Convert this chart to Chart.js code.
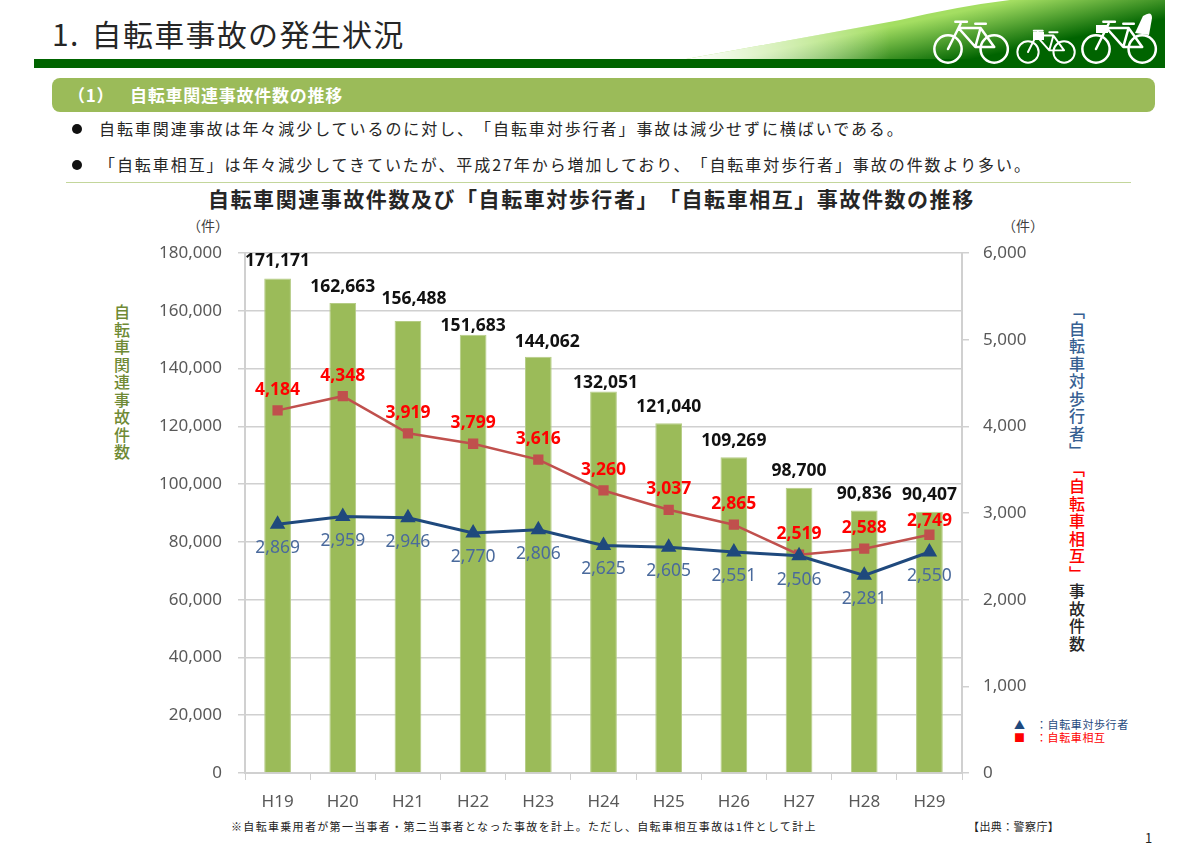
<!DOCTYPE html>
<html lang="ja">
<head>
<meta charset="utf-8">
<title>自転車事故の発生状況</title>
<script src="https://cdn.jsdelivr.net/npm/chart.js@4"></script>
<style>
  html, body { margin: 0; padding: 0; background: #fff; }
  #page { position: relative; width: 1200px; height: 848px; overflow: hidden; text-spacing-trim: space-all;
          font-family: "Noto Sans CJK JP", "Noto Sans", sans-serif; color: #262626; }
  #page > div { position: absolute; white-space: nowrap; line-height: 1; }
  #page > svg { position: absolute; left: 0; top: 0; }
  #chart { position: absolute; left: 0; top: 0; }
  .heading { left: 52px; top: 18px; font-size: 30px; letter-spacing: 1.3px; word-spacing: 4px; }
  .section { left: 52px; top: 78px; width: 1103px; height: 34px; background: #9bbb59;
             border-radius: 8px; }
  .section-text { top: 86px; font-size: 17px; font-weight: 700; color: #fff; letter-spacing: 0.75px; }
  .bullet { left: 99px; font-size: 16px; letter-spacing: 1.93px; }
  .dot { left: 72px; width: 10px; height: 10px; border-radius: 50%; background: #111; }
  .rule { left: 66px; top: 182px; width: 1065px; height: 1px; background: #c3d69b; }
  .chart-title { left: 208px; top: 188px; font-size: 21px; font-weight: 700; letter-spacing: 1.55px; }
  .unit { top: 218px; font-size: 14px; color: #404040; }
  .axis-title { writing-mode: vertical-rl; font-size: 16px; font-weight: 500; letter-spacing: 1.5px; }
  .key { font-size: 11px; letter-spacing: 0.6px; }
  .note { font-size: 11px; letter-spacing: 1.32px; color: #222; }
</style>
</head>
<body>
<div id="page">
  <svg width="1200" height="80" viewBox="0 0 1200 80">
    <defs>
      <linearGradient id="wedgeGreen" gradientUnits="userSpaceOnUse" x1="920" y1="20" x2="930" y2="68">
        <stop offset="0" stop-color="#a4de62"/>
        <stop offset="1" stop-color="#006400"/>
      </linearGradient>
      <linearGradient id="wedgeFade" gradientUnits="userSpaceOnUse" x1="690" y1="0" x2="890" y2="0">
        <stop offset="0" stop-color="#ffffff"/>
        <stop offset="1" stop-color="#ffffff" stop-opacity="0"/>
      </linearGradient>
      <path id="wedge" d="M686 59 L900 20 Q960 6 1010 0 L1165 0 L1165 68 L686 68 Z"/>
      <g id="bike" fill="none" stroke="#fff" stroke-width="2.4" stroke-linecap="round" stroke-linejoin="round">
        <circle cx="0" cy="0" r="13"/>
        <circle cx="44" cy="0" r="13"/>
        <path d="M0 0 L12 -24 M7 -26 H18 M10 -20 L26 -2 H44 L31 -20 H12 M26 -2 L31 -20 M26 -24 H36"/>
      </g>
    </defs>
    <use href="#wedge" fill="url(#wedgeGreen)"/>
    <use href="#wedge" fill="url(#wedgeFade)"/>
    <rect x="34" y="59" width="1131" height="9" fill="#006400"/>
    <use href="#bike" transform="translate(948 49) scale(1.05)"/>
    <use href="#bike" transform="translate(1028 52) scale(0.82)"/>
    <rect x="1033" y="32" width="11" height="8" fill="#fff"/>
    <use href="#bike" transform="translate(1096 49) scale(1.05)"/>
    <rect x="1096" y="25" width="12" height="8" fill="#fff"/>
    <path d="M1135 33 L1143 16 Q1152 10 1152 18 L1149 35 Z" fill="#fff"/>
  </svg>

  <div class="heading">1. 自転車事故の発生状況</div>
  <div class="section"></div>
  <div class="section-text" style="left:68px">（1）</div>
  <div class="section-text" style="left:130px">自転車関連事故件数の推移</div>
  <div class="dot" style="top:124px"></div>
  <div class="bullet" style="top:120px">自転車関連事故は年々減少しているのに対し、「自転車対歩行者」事故は減少せずに横ばいである。</div>
  <div class="dot" style="top:160px"></div>
  <div class="bullet" style="top:156px">「自転車相互」は年々減少してきていたが、平成27年から増加しており、「自転車対歩行者」事故の件数より多い。</div>
  <div class="rule"></div>
  <div class="chart-title">自転車関連事故件数及び「自転車対歩行者」「自転車相互」事故件数の推移</div>
  <div class="unit" style="left:187px">（件）</div>
  <div class="unit" style="left:1002px">（件）</div>
  <div class="axis-title" style="left:114px;top:304px;color:#6f8a35">自転車関連事故件数</div>
  <div class="axis-title" style="left:1069px;top:303px"><span style="color:#376092">「自転車対歩行者」</span><span style="color:#ff0000">「自転車相互」</span><span style="color:#262626">事故件数</span></div>
  <div class="key" style="left:1014px;top:719px;color:#1f497d">▲</div>
  <div class="key" style="left:1036px;top:719px;color:#1f497d">：自転車対歩行者</div>
  <div class="key" style="left:1014px;top:732px;color:#ff0000">■</div>
  <div class="key" style="left:1036px;top:732px;color:#ff0000">：自転車相互</div>
  <div class="note" style="left:231px;top:821px">※自転車乗用者が第一当事者・第二当事者となった事故を計上。ただし、自転車相互事故は1件として計上</div>
  <div class="note" style="left:968px;top:821px;letter-spacing:0.4px">【出典：警察庁】</div>
  <div class="note" style="left:1145px;top:831px;font-size:13px">1</div>

  <canvas id="chart" width="1200" height="848"></canvas>
</div>

<script>
// --- DATA ---
const years = ['H19', 'H20', 'H21', 'H22', 'H23', 'H24', 'H25', 'H26', 'H27', 'H28', 'H29'];
const totalAccidents = [171171, 162663, 156488, 151683, 144062, 132051, 121040, 109269, 98700, 90836, 90407];
const bikePedestrian = [2869, 2959, 2946, 2770, 2806, 2625, 2605, 2551, 2506, 2281, 2550];
const bikeBike = [4184, 4348, 3919, 3799, 3616, 3260, 3037, 2865, 2519, 2588, 2749];

// a few labels were dragged aside in the original, nudges in px from the default spot
const totalShiftX = [0, 0, 6, 0, 9, 2, 0, 0, 0, 0, 0];
const totalShiftY = [0, 1, -5, 8, 2, 8, 1, 1, 0, 0, 0];
const bikeBikeShiftY = [0, 0, 0, 0, 0, 0, 0, 0, 0, 0, 6.5];

const tickColor = '#595959';
const gridColor = '#d0d0d0';
const tickFont = { family: '"Noto Sans", sans-serif', size: 17 };

// draws the value labels above bars and around the line points
const valueLabels = {
    id: 'valueLabels',
    afterDatasetsDraw(chart) {
        const ctx = chart.ctx;
        const xs = chart.scales.x;
        const left = chart.scales.y;
        const right = chart.scales.y2;
        ctx.save();
        ctx.textAlign = 'center';
        ctx.textBaseline = 'middle';

        ctx.font = '700 17.5px "Noto Sans", sans-serif';
        ctx.fillStyle = '#111';
        totalAccidents.forEach((v, i) => {
            ctx.fillText(v.toLocaleString('en-US'), xs.getPixelForValue(i) + totalShiftX[i], left.getPixelForValue(v) - 17 + totalShiftY[i]);
        });

        ctx.font = '400 17.5px "Noto Sans", sans-serif';
        ctx.fillStyle = '#4a6a9c';
        bikePedestrian.forEach((v, i) => {
            ctx.fillText(v.toLocaleString('en-US'), xs.getPixelForValue(i), right.getPixelForValue(v) + 24);
        });

        ctx.font = '700 17.5px "Noto Sans", sans-serif';
        ctx.fillStyle = '#ff0000';
        bikeBike.forEach((v, i) => {
            ctx.fillText(v.toLocaleString('en-US'), xs.getPixelForValue(i), right.getPixelForValue(v) - 20.5 + bikeBikeShiftY[i]);
        });
        ctx.restore();
    }
};

new Chart(document.getElementById('chart'), {
    type: 'bar',
    data: {
        labels: years,
        datasets: [
            {
                type: 'line',
                label: '自転車相互',
                data: bikeBike,
                yAxisID: 'y2',
                borderColor: '#c0504d',
                backgroundColor: '#c0504d',
                borderWidth: 2.5,
                pointStyle: 'rect',
                pointRadius: 5.5,
                tension: 0,
                order: 2
            },
            {
                type: 'line',
                label: '自転車対歩行者',
                data: bikePedestrian,
                yAxisID: 'y2',
                borderColor: '#1f497d',
                backgroundColor: '#1f497d',
                borderWidth: 3,
                pointStyle: 'triangle',
                pointRadius: 6,
                tension: 0,
                order: 1
            },
            {
                label: '自転車関連事故件数',
                data: totalAccidents,
                yAxisID: 'y',
                backgroundColor: '#9bbb59',
                borderColor: '#b5cc85',
                borderWidth: 1,
                barPercentage: 0.41,
                categoryPercentage: 1,
                order: 3
            }
        ]
    },
    options: {
        responsive: false,
        animation: false,
        devicePixelRatio: 1,
        layout: { padding: { top: 253, left: 0, right: 0, bottom: 0 } },
        plugins: {
            legend: { display: false },
            title: { display: false },
            tooltip: { enabled: false }
        },
        scales: {
            x: {
                offset: true,
                grid: { offset: true, drawOnChartArea: false, color: gridColor, tickLength: 7 },
                border: { color: gridColor, width: 2 },
                ticks: { color: tickColor, font: tickFont, padding: 12, maxRotation: 0 },
                afterFit(scale) { scale.height = 75; }
            },
            y: {
                min: 0,
                max: 180000,
                grid: { color: gridColor, lineWidth: 1.5, tickLength: 7 },
                border: { color: gridColor, width: 2 },
                ticks: {
                    stepSize: 20000,
                    color: tickColor,
                    font: tickFont,
                    padding: 16,
                    callback: v => v.toLocaleString('en-US')
                },
                afterFit(scale) { scale.width = 245; }
            },
            y2: {
                position: 'right',
                min: 0,
                max: 6000,
                grid: { drawOnChartArea: false, color: gridColor, lineWidth: 1.5, tickLength: 7 },
                border: { color: gridColor, width: 2 },
                ticks: {
                    stepSize: 1000,
                    color: tickColor,
                    font: tickFont,
                    padding: 14,
                    callback: v => v.toLocaleString('en-US')
                },
                afterFit(scale) { scale.width = 238; }
            }
        }
    },
    plugins: [valueLabels]
});
</script>
</body>
</html>
